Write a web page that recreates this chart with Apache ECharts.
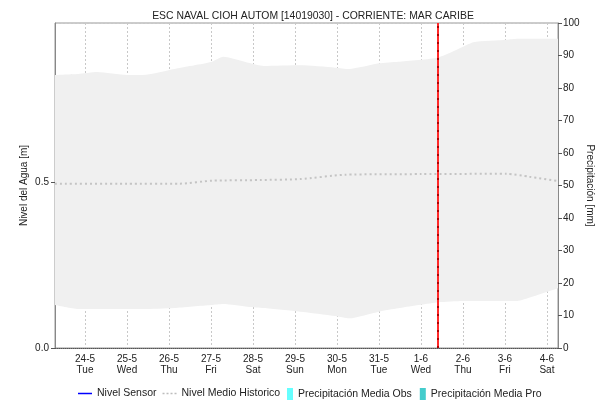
<!DOCTYPE html>
<html><head><meta charset="utf-8">
<script src="https://cdn.jsdelivr.net/npm/echarts@6/dist/echarts.min.js"></script>
<style>html,body{margin:0;padding:0;background:#fff;overflow:hidden}#c{width:598px;height:402px}</style>
</head><body><div id="c"></div>
<script>
const titleText = 'ESC NAVAL CIOH AUTOM [14019030] - CORRIENTE: MAR CARIBE';
const xMin = '2022-05-23 06:50';
const xMax = '2022-06-04 06:20';
const nowTime = '2022-06-01 09:30';
const dayNames = ['Sun','Mon','Tue','Wed','Thu','Fri','Sat'];

const bandTimes = ['2022-05-23 06:50','2022-05-23 20:00','2022-05-24 07:00','2022-05-25 00:00','2022-05-25 09:00','2022-05-26 03:00','2022-05-27 00:00','2022-05-27 07:00','2022-05-27 22:00','2022-05-28 06:00','2022-05-29 03:00','2022-05-29 23:00','2022-05-30 07:00','2022-05-31 00:00','2022-05-31 11:00','2022-06-01 10:00','2022-06-02 00:00','2022-06-02 06:00','2022-06-03 01:00','2022-06-03 07:00','2022-06-03 15:00','2022-06-04 06:20'];
const bandUpper = [0.826,0.829,0.835,0.826,0.826,0.844,0.865,0.881,0.862,0.853,0.855,0.848,0.844,0.861,0.866,0.879,0.911,0.925,0.932,0.935,0.935,0.935];
const bandLower = [0.130,0.118,0.118,0.118,0.118,0.121,0.130,0.133,0.124,0.121,0.110,0.097,0.090,0.110,0.120,0.138,0.142,0.142,0.142,0.142,0.154,0.181];

const histTimes = ['2022-05-23 06:50','2022-05-25 00:00','2022-05-26 06:00','2022-05-27 00:40','2022-05-28 04:00','2022-05-29 02:50','2022-05-30 04:30','2022-06-01 00:00','2022-06-03 01:00','2022-06-03 14:00','2022-06-04 06:20'];
const histValues = [0.497,0.497,0.497,0.506,0.508,0.511,0.524,0.526,0.527,0.518,0.505];

const sensorValues = [];
const precipObs = [];
const precipPro = [];

function ts(s){const m=s.match(/(\d+)-(\d+)-(\d+) (\d+):(\d+)/);return new Date(+m[1],+m[2]-1,+m[3],+m[4],+m[5]).getTime();}

const font = 'Liberation Sans, Arial, sans-serif';
const chart = echarts.init(document.getElementById('c'));
const lowerData = bandTimes.map((t,i)=>[ts(t),bandLower[i]]);
const diffData = bandTimes.map((t,i)=>[ts(t),+(bandUpper[i]-bandLower[i]).toFixed(4)]);
const histData = histTimes.map((t,i)=>[ts(t),histValues[i]]);
const lineIcon = 'path://M0,0h14v1.5h-14z';
const dashIcon = 'path://M0,0h2v1.5h-2zM4,0h2v1.5h-2zM8,0h2v1.5h-2zM12,0h2v1.5h-2z';

chart.setOption({
  animation:false,
  textStyle:{fontFamily:font},
  title:{text:titleText,left:308,textAlign:'center',top:6,textStyle:{fontSize:10.4,fontWeight:'normal',color:'#222',fontFamily:font}},
  grid:{left:55,right:40,top:23,bottom:54,show:true,borderColor:'#999',borderWidth:1,backgroundColor:'transparent',outerBoundsMode:'none',containLabel:false},
  legend:[
    {left:78,top:388,itemWidth:14,itemHeight:12,itemGap:6,padding:0,textStyle:{fontSize:10.5,color:'#222',fontFamily:font},
     data:[{name:'Nivel Sensor',icon:lineIcon,itemStyle:{color:'#0000ff'}},
           {name:'Nivel Medio Historico',icon:dashIcon,itemStyle:{color:'#bdbdbd'}}]},
    {left:287,top:388,itemWidth:6,itemHeight:12,itemGap:8,padding:0,textStyle:{fontSize:10.5,color:'#222',fontFamily:font},
     data:[{name:'Precipitación Media Obs',icon:'rect'},{name:'Precipitación Media Pro',icon:'rect'}]}
  ],
  xAxis:[{type:'time',min:ts(xMin),max:ts(xMax),minInterval:86400000,maxInterval:86400000,
    axisLine:{lineStyle:{color:'#555',type:'dotted',width:1}},
    axisTick:{show:false},
    axisLabel:{fontSize:10,color:'#222',lineHeight:11,margin:6,fontFamily:font,hideOverlap:false,
      formatter:function(v){const d=new Date(v);return d.getDate()+'-'+(d.getMonth()+1)+'\n'+dayNames[d.getDay()];}},
    splitLine:{show:true,lineStyle:{color:'#c8c8c8',type:[2,2],width:1}}
  },{type:'time',min:ts(xMin),max:ts(xMax),show:false,splitLine:{show:false}}],
  yAxis:[
    {type:'value',min:0,max:0.983,interval:0.5,position:'left',
     name:'Nivel del Agua [m]',nameLocation:'middle',nameGap:26,nameRotate:90,nameMoveOverlap:false,
     nameTextStyle:{fontSize:10,color:'#222',fontFamily:font},
     axisLine:{show:true,lineStyle:{color:'#888'}},
     axisTick:{show:true,length:4,lineStyle:{color:'#555'}},
     axisLabel:{fontSize:10,color:'#222',margin:6,showMaxLabel:false,fontFamily:font,
       formatter:function(v){return (Math.abs(v*2-Math.round(v*2))<1e-6)?v.toFixed(1):'';}},
     splitLine:{show:true,lineStyle:{color:'#c8c8c8',type:[2,2]}}},
    {type:'value',min:0,max:100,interval:10,position:'right',
     name:'Precipitación [mm]',nameLocation:'middle',nameGap:27,nameRotate:-90,nameMoveOverlap:false,
     nameTextStyle:{fontSize:10,color:'#222',fontFamily:font},
     axisLine:{show:true,lineStyle:{color:'#888'}},
     axisTick:{show:true,length:4,lineStyle:{color:'#555'}},
     axisLabel:{fontSize:10,color:'#222',margin:5,fontFamily:font},
     splitLine:{show:false}}
  ],
  series:[
    {name:'bandLower',type:'line',stack:'band',data:lowerData,symbol:'none',smooth:0.2,
     lineStyle:{opacity:0},silent:true,z:1},
    {name:'bandRange',type:'line',stack:'band',data:diffData,symbol:'none',smooth:0.2,
     lineStyle:{opacity:0},areaStyle:{color:'#f0f0f0',opacity:1},silent:true,z:1},
    {name:'Nivel Sensor',type:'line',data:sensorValues,symbol:'none',color:'#0000ff',lineStyle:{color:'#0000ff',width:1.5},z:3},
    {name:'Nivel Medio Historico',type:'line',data:histData,symbol:'none',color:'#bdbdbd',smooth:0.2,
     lineStyle:{color:'#c4c4c4',width:2,type:[2,3]},z:3,
     markLine:{symbol:'none',silent:true,label:{show:false},animation:false,
       data:[{xAxis:ts(nowTime),lineStyle:{color:'#ff2a2a',width:2,type:'solid'}},
             {xAxis:ts(nowTime),lineStyle:{color:'#b00000',width:2,type:[2,6]}}]}},
    {name:'Precipitación Media Obs',type:'bar',xAxisIndex:1,yAxisIndex:1,data:precipObs,color:'#66ffff',itemStyle:{color:'#66ffff'}},
    {name:'Precipitación Media Pro',type:'bar',xAxisIndex:1,yAxisIndex:1,data:precipPro,color:'#44cccc',itemStyle:{color:'#44cccc'}}
  ]
});
</script></body></html>
